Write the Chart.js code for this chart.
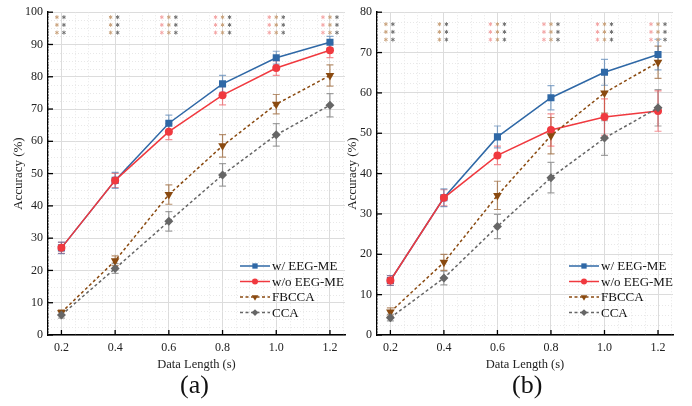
<!DOCTYPE html>
<html>
<head>
<meta charset="utf-8">
<script src="https://cdn.jsdelivr.net/npm/chart.js@4.4.1/dist/chart.umd.min.js"></script>
<style>
  body { margin: 0; background: #fff; width: 692px; height: 406px; position: relative; overflow: hidden; }
  canvas { position: absolute; top: 0; }
  #ca { left: 0; }
  #cb { left: 340px; }
  .cap { position: absolute; top: 370px; font-family: 'Liberation Serif', serif; font-size: 26px; color: #111; }
</style>
</head>
<body>
<canvas id="ca" width="350" height="372"></canvas>
<canvas id="cb" width="352" height="372"></canvas>
<div class="cap" style="left:180px">(a)</div>
<div class="cap" style="left:512px">(b)</div>
<script>
const lengths = [0.2, 0.4, 0.6, 0.8, 1.0, 1.2];
const names = ['w/ EEG-ME', 'w/o EEG-ME', 'FBCCA', 'CCA'];

// panel (a)
const aWith = [27.0, 47.9, 65.6, 77.8, 85.9, 90.7];
const aWithErr = [1.8, 2.5, 2.5, 2.6, 2.0, 1.8];
const aWithout = [27.0, 47.9, 63.0, 74.3, 82.7, 88.2];
const aWithoutErr = [1.7, 2.2, 2.5, 3.0, 2.3, 2.3];
const aFbcca = [7.0, 23.0, 43.5, 58.6, 71.5, 80.4];
const aFbccaErr = [0.8, 1.5, 3.0, 3.5, 3.0, 3.3];
const aCca = [6.2, 20.6, 35.2, 49.6, 62.0, 71.2];
const aCcaErr = [1.0, 1.5, 3.0, 3.5, 3.5, 3.6];

// panel (b)
const bWith = [13.5, 34.0, 49.1, 58.8, 65.1, 69.5];
const bWithErr = [1.2, 2.2, 2.7, 3.0, 3.2, 3.8];
const bWithout = [13.5, 34.0, 44.5, 50.8, 54.0, 55.5];
const bWithoutErr = [1.2, 2.0, 2.3, 4.0, 4.5, 5.0];
const bFbcca = [5.7, 18.0, 34.6, 49.4, 60.0, 67.6];
const bFbccaErr = [1.0, 2.0, 3.5, 4.5, 5.0, 4.0];
const bCca = [4.3, 14.1, 26.9, 39.0, 48.8, 56.3];
const bCcaErr = [0.8, 1.7, 3.0, 3.8, 4.3, 4.5];

// significance stars per length: which comparisons are marked
const starCols = [
  ['tan', 'gray'], ['tan', 'gray'],
  ['pink', 'tan', 'gray'], ['pink', 'tan', 'gray'], ['pink', 'tan', 'gray'], ['pink', 'tan', 'gray']
];
const starColors = { pink: '#f4a5a5', tan: '#c9a27c', gray: '#707070' };

const styles = [
  { color: '#2f68a6', errColor: 'rgba(47,104,166,0.55)', dash: [], point: 'rect', r: 5, rot: 0 },
  { color: '#f0393f', errColor: 'rgba(240,57,63,0.55)', dash: [], point: 'circle', r: 4, rot: 0 },
  { color: '#8a4a10', errColor: 'rgba(138,74,16,0.6)', dash: [3, 2.5], point: 'triangle', r: 5, rot: 180 },
  { color: '#666666', errColor: 'rgba(100,100,100,0.6)', dash: [3, 2.5], point: 'rectRot', r: 4.5, rot: 0 }
];

const FONT = 'Liberation Serif';

function datasetsFor(vals, errs) {
  return vals.map((v, i) => ({
    label: names[i],
    data: lengths.map((x, k) => ({ x: x, y: v[k] })),
    errs: errs[i],
    borderColor: styles[i].color,
    backgroundColor: styles[i].color,
    borderWidth: 1.5,
    borderDash: styles[i].dash,
    pointStyle: styles[i].point,
    pointRadius: styles[i].r,
    pointRotation: styles[i].rot,
    pointBorderWidth: 0,
    tension: 0,
    order: 4 - i
  })).reverse();
}

function star(ctx, x, y, r) {
  ctx.beginPath();
  for (let k = 0; k < 3; k++) {
    const ang = Math.PI / 2 + k * Math.PI / 3;
    ctx.moveTo(x + r * Math.cos(ang), y + r * Math.sin(ang));
    ctx.lineTo(x - r * Math.cos(ang), y - r * Math.sin(ang));
  }
  ctx.stroke();
}

const panelPlugin = {
  id: 'panel',
  beforeDatasetsDraw(chart, args, opts) {
    const ctx = chart.ctx, a = chart.chartArea;
    const xs = chart.scales.x, ys = chart.scales.y;
    ctx.save();
    // minor grid
    ctx.strokeStyle = '#e2e2e2';
    ctx.lineWidth = 0.8;
    ctx.setLineDash([1, 2]);
    for (let v = 0.15; v < 1.26; v += 0.05) {
      if (Math.abs(Math.round(v * 5) - v * 5) < 1e-6) continue;
      const px = Math.round(xs.getPixelForValue(v)) + 0.5;
      ctx.beginPath(); ctx.moveTo(px, a.top); ctx.lineTo(px, a.bottom); ctx.stroke();
    }
    for (let v = 2.5; v < ys.max; v += 2.5) {
      if (v % 10 === 0) continue;
      const py = Math.round(ys.getPixelForValue(v)) + 0.5;
      ctx.beginPath(); ctx.moveTo(a.left, py); ctx.lineTo(a.right, py); ctx.stroke();
    }
    ctx.setLineDash([]);
    // error bars
    chart.data.datasets.forEach(ds => {
      const st = styles[names.indexOf(ds.label)];
      ctx.strokeStyle = st.errColor;
      ctx.lineWidth = 1.2;
      ds.data.forEach((p, k) => {
        const px = xs.getPixelForValue(p.x);
        const y1 = ys.getPixelForValue(p.y + ds.errs[k]);
        const y2 = ys.getPixelForValue(p.y - ds.errs[k]);
        ctx.beginPath();
        ctx.moveTo(px, y1); ctx.lineTo(px, y2);
        ctx.moveTo(px - 3.5, y1); ctx.lineTo(px + 3.5, y1);
        ctx.moveTo(px - 3.5, y2); ctx.lineTo(px + 3.5, y2);
        ctx.stroke();
      });
    });
    ctx.restore();
  },
  afterDraw(chart, args, opts) {
    const ctx = chart.ctx, a = chart.chartArea;
    const xs = chart.scales.x, ys = chart.scales.y;
    ctx.save();
    // inward ticks
    ctx.strokeStyle = '#000';
    ctx.lineWidth = 1.3;
    lengths.forEach(v => {
      const px = xs.getPixelForValue(v);
      ctx.beginPath(); ctx.moveTo(px, a.bottom); ctx.lineTo(px, a.bottom - 5); ctx.stroke();
    });
    for (let v = 0; v <= ys.max; v += 10) {
      const py = ys.getPixelForValue(v);
      ctx.beginPath(); ctx.moveTo(a.left, py); ctx.lineTo(a.left + 5, py); ctx.stroke();
    }
    // stars
    ctx.lineWidth = 1;
    lengths.forEach((v, k) => {
      const px = xs.getPixelForValue(v);
      const cols = starCols[k];
      const offs = cols.length === 3 ? [-7, 0, 7] : [-4.5, 2.5];
      cols.forEach((c, j) => {
        ctx.strokeStyle = starColors[c];
        for (let r = 0; r < 3; r++) {
          star(ctx, px + offs[j], a.top + opts.starTop + r * 7.7, 2);
        }
      });
    });
    // legend
    const lx = opts.legendX, ly = opts.legendY;
    ctx.textAlign = 'left';
    ctx.textBaseline = 'middle';
    ctx.font = '13px ' + FONT;
    names.forEach((n, i) => {
      const st = styles[i];
      const y = ly + i * 15.5;
      ctx.strokeStyle = st.color;
      ctx.lineWidth = 1.5;
      ctx.setLineDash(st.dash);
      ctx.beginPath(); ctx.moveTo(lx, y); ctx.lineTo(lx + 30, y); ctx.stroke();
      ctx.setLineDash([]);
      ctx.fillStyle = st.color;
      Chart.helpers.drawPoint(ctx, { pointStyle: st.point, radius: st.r * 0.75, rotation: st.rot, borderWidth: 0 }, lx + 15, y);
      ctx.fillStyle = '#111';
      ctx.fillText(n, lx + 32, y + 1);
    });
    ctx.restore();
  }
};

function makePanel(id, vals, errs, yMax, yWidth, titlePad, padRight, starTop, legendX, legendY) {
  new Chart(document.getElementById(id), {
    type: 'line',
    data: { datasets: datasetsFor(vals, errs) },
    plugins: [panelPlugin],
    options: {
      responsive: false,
      animation: false,
      layout: { padding: { top: 11, right: padRight, left: 0, bottom: 0 } },
      plugins: {
        legend: { display: false },
        tooltip: { enabled: false },
        panel: { starTop: starTop, legendX: legendX, legendY: legendY }
      },
      scales: {
        x: {
          type: 'linear', min: 0.15, max: 1.256,
          afterBuildTicks: s => { s.ticks = lengths.map(v => ({ value: v })); },
          afterFit: s => { s.height = 37; },
          grid: { color: '#dcdcdc', lineWidth: 1, drawTicks: false },
          border: { color: '#000', width: 1.5 },
          ticks: { padding: 6, color: '#222', font: { family: FONT, size: 12 }, callback: v => v.toFixed(1) },
          title: { display: true, text: 'Data Length (s)', color: '#222', font: { family: FONT, size: 12.5 }, padding: { top: 2, bottom: 0 } }
        },
        y: {
          min: 0, max: yMax,
          afterFit: s => { s.width = yWidth; },
          grid: { color: '#dcdcdc', lineWidth: 1, drawTicks: false },
          border: { color: '#000', width: 1.5 },
          ticks: { stepSize: 10, padding: 5, color: '#222', font: { family: FONT, size: 12 } },
          title: { display: true, text: 'Accuracy (%)', color: '#222', font: { family: FONT, size: 13 }, padding: { top: titlePad, bottom: 4 } }
        }
      }
    }
  });
}

makePanel('ca', [aWith, aWithout, aFbcca, aCca], [aWithErr, aWithoutErr, aFbccaErr, aCcaErr], 100, 48, 11, 5, 5, 240, 266);
makePanel('cb', [bWith, bWithout, bFbcca, bCca], [bWithErr, bWithoutErr, bFbccaErr, bCcaErr], 80, 37, 5, 19, 12, 229, 266);
</script>
</body>
</html>
